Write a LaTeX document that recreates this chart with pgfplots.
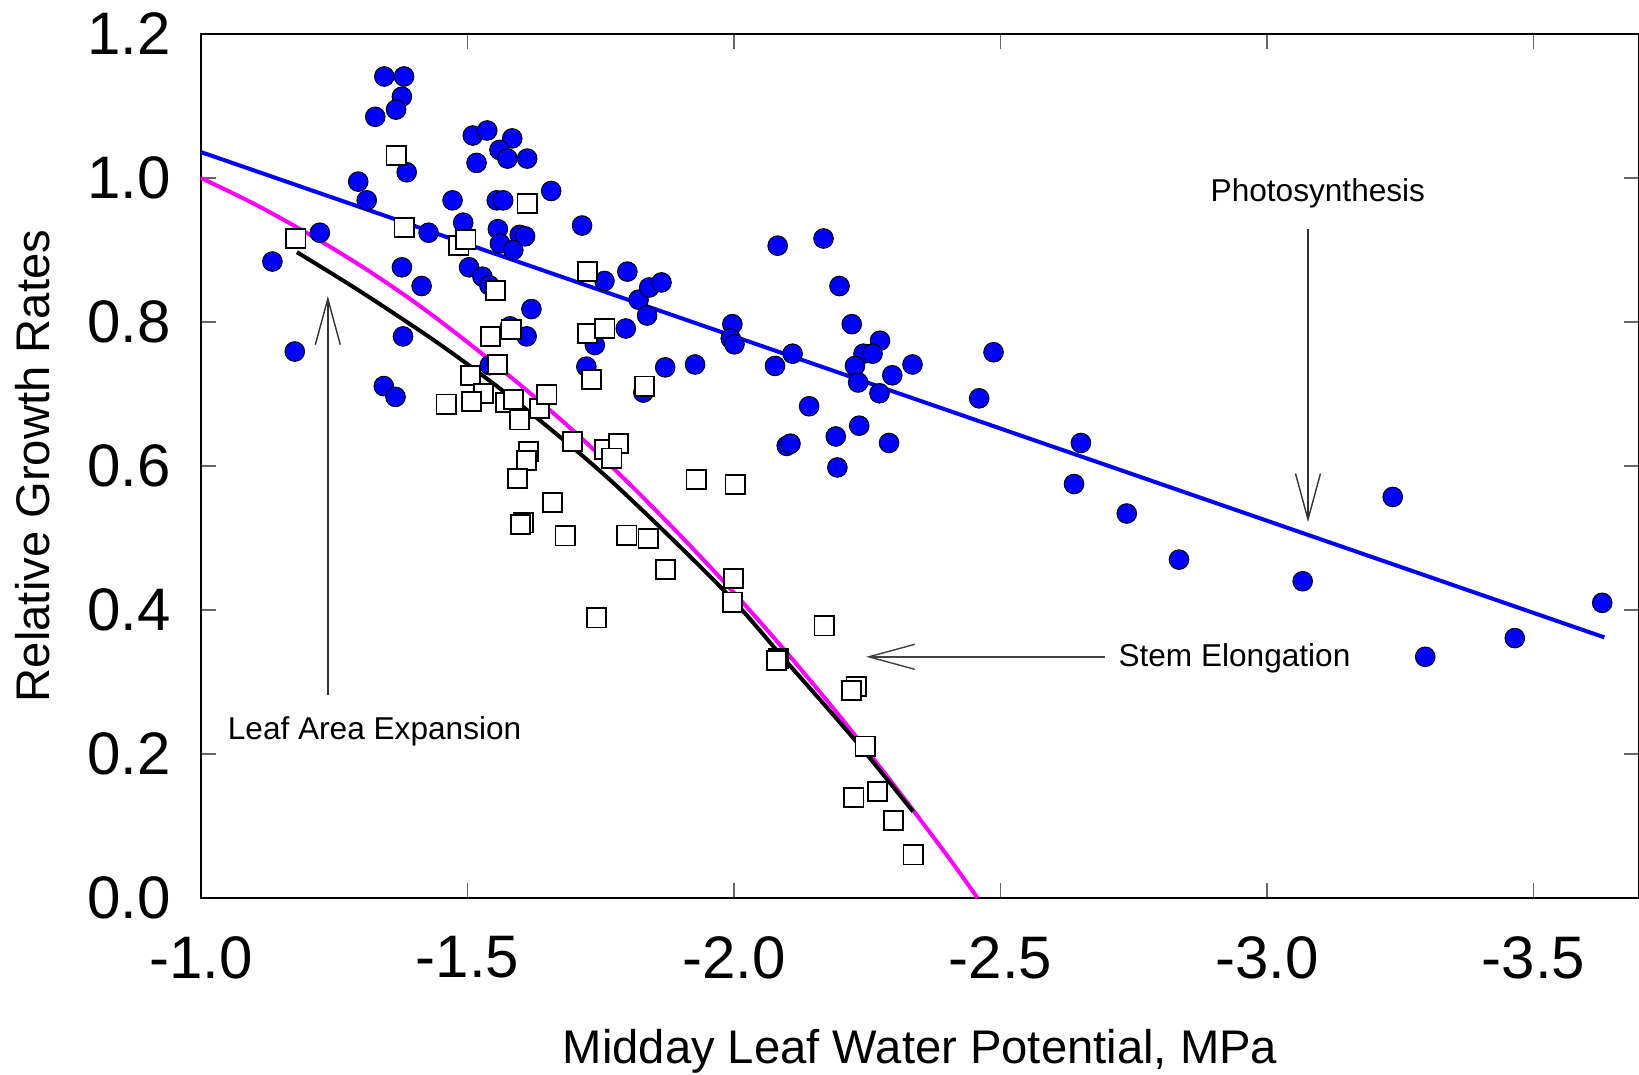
\documentclass[border=0pt]{standalone}
\usepackage{fontspec}
\setmainfont{Liberation Sans}
\usepackage{pgfplots}
\pgfplotsset{compat=1.18}
\usetikzlibrary{arrows.meta}
\definecolor{pblue}{RGB}{0,0,255}
\definecolor{pmag}{RGB}{255,0,255}

\begin{document}
\begin{tikzpicture}
\begin{axis}[
  scale only axis, width=359.5pt, height=216pt,
  x dir=reverse, xmin=-3.698, xmax=-1.0, ymin=0, ymax=1.2,
  xtick={-1,-1.5,-2,-2.5,-3,-3.5},
  xticklabels={-1.0,-1.5,-2.0,-2.5,-3.0,-3.5},
  ytick={0,0.2,0.4,0.6,0.8,1.0,1.2},
  yticklabels={0.0,0.2,0.4,0.6,0.8,1.0,1.2},
  tick align=inside, major tick length=3.75pt,
  tick style={line width=0.3pt, color=black!60},
  axis line style={line width=0.4pt},
  tick label style={font=\fontsize{15}{18}\selectfont},
  xticklabel style={yshift=-6pt},
  yticklabel style={xshift=-4pt},
  xlabel={Midday Leaf Water Potential, MPa},
  ylabel={Relative Growth Rates},
  label style={font=\fontsize{11.8}{14}\selectfont},
  xlabel style={at={(axis description cs:0.5,-0.1921)}, anchor=base},
  ylabel style={at={(axis description cs:-0.105,0.5)}, anchor=base},
]
\coordinate (axbl) at (axis description cs:0,0);
\coordinate (axtr) at (axis description cs:1,1);

% Photosynthesis regression
\addplot[pblue, line width=1pt] coordinates {(-1,1.036) (-3.633,0.362)};

% Photosynthesis
\addplot[only marks, mark=*, mark size=2.45pt, mark options={fill=pblue, draw=black, line width=0.25pt}] coordinates {
(-1.134,0.884) (-1.176,0.759) (-1.223,0.924) (-1.295,0.995) (-1.311,0.969)
(-1.327,1.085) (-1.344,1.141) (-1.381,1.141) (-1.377,1.113) (-1.366,1.095)
(-1.386,1.008) (-1.377,0.876) (-1.414,0.850) (-1.379,0.780) (-1.343,0.711)
(-1.365,0.696) (-1.427,0.924) (-1.472,0.969) (-1.492,0.938) (-1.503,0.876)
(-1.528,0.863) (-1.541,0.851) (-1.510,1.059) (-1.537,1.066) (-1.584,1.055)
(-1.560,1.039) (-1.575,1.027) (-1.612,1.027) (-1.517,1.021) (-1.555,0.969)
(-1.567,0.969) (-1.557,0.929) (-1.598,0.921) (-1.608,0.919) (-1.561,0.909)
(-1.586,0.900) (-1.657,0.982) (-1.715,0.934) (-1.620,0.818) (-1.611,0.780)
(-1.580,0.794) (-1.542,0.740) (-1.757,0.857) (-1.800,0.870) (-1.821,0.831)
(-1.841,0.848) (-1.864,0.855) (-1.837,0.809) (-1.797,0.791) (-1.739,0.768)
(-1.723,0.738) (-1.830,0.702) (-1.871,0.737) (-1.927,0.741) (-1.997,0.797)
(-1.994,0.777) (-2.001,0.769) (-2.077,0.739) (-2.110,0.756) (-2.082,0.906)
(-2.141,0.683) (-2.099,0.628) (-2.106,0.631) (-2.168,0.916) (-2.198,0.850)
(-2.221,0.797) (-2.274,0.774) (-2.243,0.756) (-2.260,0.756) (-2.227,0.739)
(-2.233,0.716) (-2.297,0.726) (-2.335,0.741) (-2.273,0.701) (-2.191,0.641)
(-2.235,0.656) (-2.291,0.632) (-2.194,0.598) (-2.460,0.694) (-2.487,0.758)
(-2.651,0.632) (-2.638,0.575) (-2.737,0.534) (-2.835,0.470) (-3.067,0.440)
(-3.236,0.557) (-3.297,0.335) (-3.465,0.361) (-3.629,0.410)
};

% Stem elongation / leaf area expansion
\addplot[only marks, mark=square*, mark size=2.4pt, mark options={fill=white, draw=black, line width=0.45pt}] coordinates {
(-1.178,0.916) (-1.366,1.031) (-1.381,0.931) (-1.484,0.906) (-1.497,0.915)
(-1.612,0.965) (-1.553,0.844) (-1.725,0.870) (-1.543,0.780) (-1.582,0.790)
(-1.725,0.784) (-1.758,0.791) (-1.556,0.741) (-1.506,0.726) (-1.530,0.701)
(-1.507,0.690) (-1.460,0.686) (-1.572,0.688) (-1.586,0.692) (-1.598,0.664)
(-1.635,0.680) (-1.649,0.699) (-1.697,0.634) (-1.757,0.623) (-1.783,0.631)
(-1.771,0.611) (-1.614,0.620) (-1.611,0.608) (-1.594,0.583) (-1.659,0.549)
(-1.605,0.521) (-1.600,0.519) (-1.683,0.503) (-1.799,0.504) (-1.839,0.499)
(-1.872,0.456) (-1.742,0.389) (-1.733,0.720) (-1.832,0.711) (-1.929,0.581)
(-2.002,0.574) (-1.999,0.444) (-1.997,0.411) (-2.169,0.378) (-2.083,0.333)
(-2.080,0.330) (-2.229,0.294) (-2.220,0.288) (-2.246,0.211) (-2.225,0.140)
(-2.269,0.148) (-2.299,0.108) (-2.336,0.060)
};

% Magenta fitted curve
\addplot[pmag, line width=1pt, smooth] coordinates {
(-1.0,1.000) (-1.1,0.964) (-1.2,0.923) (-1.3,0.878) (-1.4,0.828)
(-1.5,0.772) (-1.6,0.712) (-1.7,0.648) (-1.8,0.578) (-1.9,0.503)
(-2.0,0.424) (-2.1,0.340) (-2.2,0.251) (-2.3,0.157) (-2.4,0.059) (-2.457,0.0)
};

% Black fitted curve
\addplot[black, line width=1pt, smooth] coordinates {
(-1.18,0.897) (-1.30,0.842) (-1.45,0.768) (-1.586,0.693) (-1.767,0.581)
(-1.98,0.428) (-2.10,0.327) (-2.224,0.222) (-2.336,0.120)
};

% Annotations
\draw[black!80, line width=0.35pt, -{Straight Barb[length=11.5pt,width=6.25pt]}]
  (axis cs:-3.077,0.929) -- (axis cs:-3.077,0.522);
\draw[black!75, line width=0.35pt, -{Straight Barb[length=11.5pt,width=6.25pt]}]
  (axis cs:-2.696,0.335) -- (axis cs:-2.248,0.335);
\draw[black!80, line width=0.35pt, -{Straight Barb[length=11.5pt,width=6.25pt]}]
  (axis cs:-1.238,0.282) -- (axis cs:-1.238,0.836);
\node[anchor=base west, inner sep=0pt, font=\fontsize{7.9}{9}\selectfont] at (axis cs:-2.893,0.967) {Photosynthesis};
\node[anchor=base west, inner sep=0pt, font=\fontsize{7.9}{9}\selectfont] at (axis cs:-2.720,0.322) {Stem Elongation};
\node[anchor=base west, inner sep=0pt, font=\fontsize{7.9}{9}\selectfont] at (axis cs:-1.049,0.220) {Leaf Area Expansion};
\end{axis}
\pgfresetboundingbox
\path[use as bounding box] ([shift={(-50.25pt,-44pt)}]axbl) rectangle ([shift={(0pt,8.5pt)}]axtr);
\end{tikzpicture}
\end{document}
